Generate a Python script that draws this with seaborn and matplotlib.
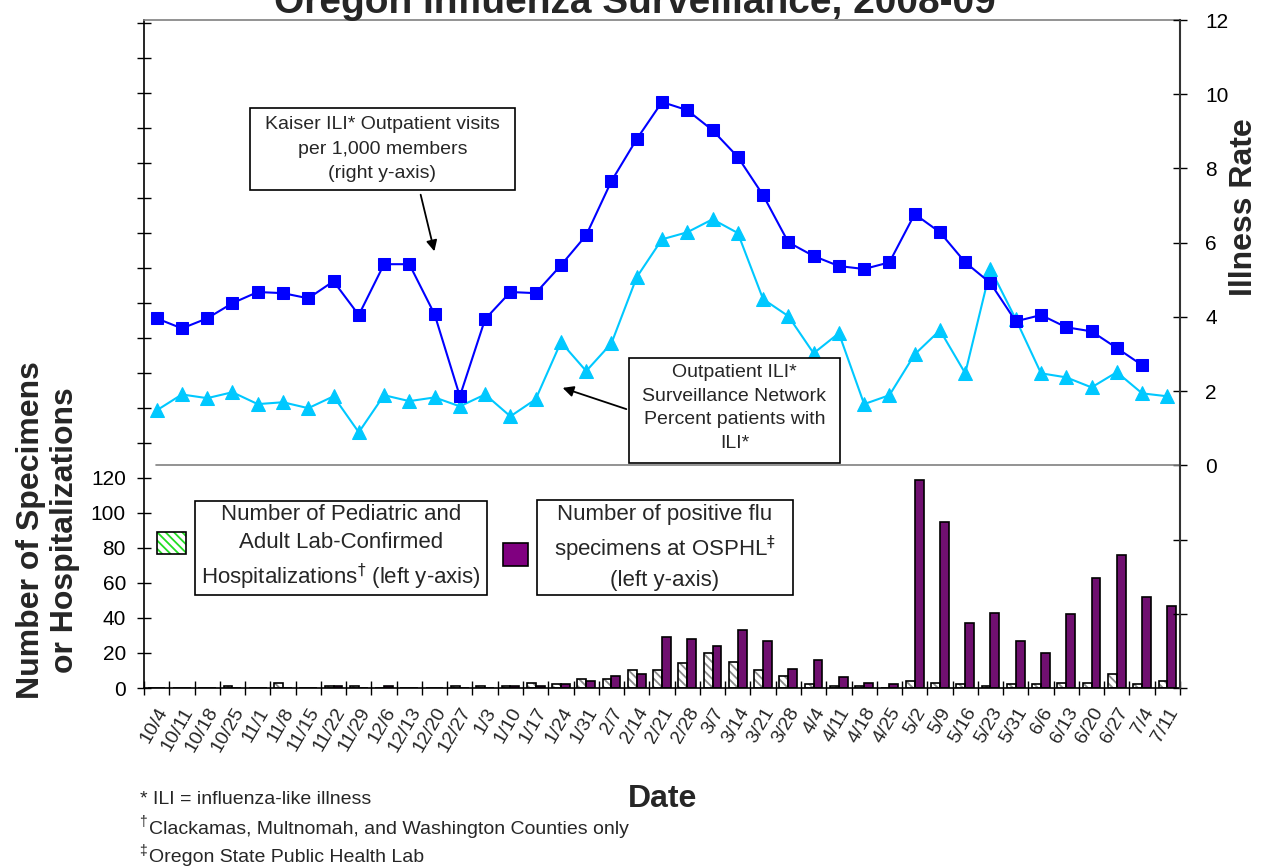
import numpy as np
import pandas as pd
import matplotlib
matplotlib.use('Agg')
import matplotlib.pyplot as plt
from matplotlib.patches import Rectangle, FancyArrowPatch
import seaborn as sns

# weekly data
dates = ['10/4', '10/11', '10/18', '10/25', '11/1', '11/8', '11/15', '11/22', '11/29',
         '12/6', '12/13', '12/20', '12/27', '1/3', '1/10', '1/17', '1/24', '1/31',
         '2/7', '2/14', '2/21', '2/28', '3/7', '3/14', '3/21', '3/28', '4/4', '4/11',
         '4/18', '4/25', '5/2', '5/9', '5/16', '5/23', '5/31', '6/6', '6/13', '6/20',
         '6/27', '7/4', '7/11']
hospitalizations = [0, 0, 0, 1, 0, 3, 0, 1, 1, 0, 0, 0, 1, 1, 1, 3, 2, 5, 5, 10, 10,
                    14, 20, 15, 10, 7, 2, 1, 1, 0, 4, 3, 2, 1, 2, 2, 3, 3, 8, 2, 4]
osphl_positive = [0, 0, 0, 0, 0, 0, 0, 1, 0, 1, 0, 0, 0, 0, 1, 1, 2, 4, 7, 8, 29,
                  28, 24, 33, 27, 11, 16, 6, 3, 2, 119, 95, 37, 43, 27, 20, 42, 63, 76, 52, 47]
kaiser_ili = [3.96, 3.69, 3.96, 4.37, 4.67, 4.64, 4.50, 4.96, 4.05, 5.42, 5.42, 4.07,
              1.86, 3.94, 4.67, 4.64, 5.39, 6.20, 7.66, 8.79, 9.79, 9.57, 9.03, 8.31,
              7.28, 6.01, 5.64, 5.37, 5.29, 5.47, 6.77, 6.28, 5.47, 4.91, 3.88, 4.05,
              3.72, 3.61, 3.16, 2.70, np.nan]
outpatient_ili = [1.48, 1.91, 1.81, 1.97, 1.65, 1.70, 1.54, 1.86, 0.89, 1.89, 1.73,
                  1.83, 1.59, 1.91, 1.32, 1.78, 3.32, 2.54, 3.29, 5.07, 6.09, 6.28,
                  6.63, 6.26, 4.48, 4.02, 3.02, 3.56, 1.65, 1.89, 2.99, 3.64, 2.48,
                  5.29, 3.94, 2.48, 2.37, 2.10, 2.51, 1.94, 1.86]

n = len(dates)

sns.set_theme(style='white')
plt.rcParams['font.family'] = ['Liberation Sans', 'DejaVu Sans']
plt.rcParams['hatch.linewidth'] = 1.3

W, H = 1263, 867
fig = plt.figure(figsize=(W / 100, H / 100), dpi=100)


def fx(px):
    return px / W


def fy(py):
    return 1 - py / H


ax = fig.add_axes([fx(144), fy(688), fx(1180) - fx(144), fy(20) - fy(688)])

# bars (left axis)
bars = pd.DataFrame({
    'date': dates * 2,
    'count': hospitalizations + osphl_positive,
    'series': ['hosp'] * n + ['osphl'] * n,
})
sns.barplot(data=bars, x='date', y='count', hue='series', hue_order=['hosp', 'osphl'],
            palette={'hosp': 'white', 'osphl': '#800080'}, width=0.7,
            edgecolor='black', linewidth=1.2, legend=False, ax=ax)
for p in ax.containers[0]:
    p.set_hatch('\\\\\\\\')
    p.set_edgecolor('#8a8a8a')
    p.set_linewidth(0)
    ax.add_patch(Rectangle(p.get_xy(), p.get_width(), p.get_height(),
                           fill=False, edgecolor='black', lw=1.2))

ax.set_xlim(-0.5, n - 0.5)
ax.set_ylim(0, 381.7)
left_ticks = np.arange(0, 381, 20)
ax.set_yticks(left_ticks)
ax.set_yticklabels([str(v) if v <= 120 else '' for v in left_ticks])
ax.tick_params(axis='y', direction='inout', length=10, width=1, labelsize=15,
               colors='black', left=True, pad=8)
ax.set_xticks(range(n))
ax.set_xticklabels(dates, rotation=60, ha='right', rotation_mode='anchor')
ax.set_xticks(np.arange(-0.5, n, 1), minor=True)
ax.tick_params(axis='x', which='major', length=0, labelsize=14, pad=12)
ax.tick_params(axis='x', which='minor', direction='inout', length=10, width=1,
               color='black', bottom=True)
ax.set_xlabel('')
ax.set_ylabel('')
for side in ['left', 'bottom']:
    ax.spines[side].set_color('black')
    ax.spines[side].set_linewidth(1.2)
ax.spines['right'].set_visible(False)
ax.spines['top'].set_color('#808080')
ax.spines['top'].set_linewidth(1.2)

# lines (right axis)
ax2 = ax.twinx()
x_pos = np.arange(n)
sns.lineplot(x=x_pos, y=outpatient_ili, ax=ax2, color='#00C8FF', marker='^',
             markersize=10, markeredgecolor='#00C8FF', lw=1.5, estimator=None)
sns.lineplot(x=x_pos, y=kaiser_ili, ax=ax2, color='#0000FF', marker='s',
             markersize=8, markeredgecolor='#0000FF', lw=1.5, estimator=None)
ax2.set_ylim(-6, 12)
right_ticks = np.arange(-6, 13, 2)
ax2.set_yticks(right_ticks)
ax2.set_yticklabels([str(v) if v >= 0 else '' for v in right_ticks])
ax2.tick_params(axis='y', direction='inout', length=10, width=1, labelsize=15,
                colors='black', right=True, pad=13)
ax2.axhline(0, xmin=0.012, xmax=1, color='#808080', lw=1.2)
ax2.set_xlim(-0.5, n - 0.5)
for side in ['left', 'bottom', 'top']:
    ax2.spines[side].set_visible(False)
ax2.spines['right'].set_color('#333333')
ax2.spines['right'].set_linewidth(1.5)

# titles and axis labels
fig.text(fx(635), fy(13), 'Oregon Influenza Surveillance, 2008-09', ha='center',
         va='baseline', fontsize=28, fontweight='bold')
fig.text(fx(48), fy(530), 'Number of Specimens\nor Hospitalizations', rotation=90,
         ha='center', va='center', fontsize=23, fontweight='bold', linespacing=1.15)
fig.text(fx(1244), fy(207), 'Illness Rate', rotation=90, ha='center', va='center',
         fontsize=23, fontweight='bold')
fig.text(fx(663), fy(799), 'Date', ha='center', va='center', fontsize=23,
         fontweight='bold')

# footnotes
fig.text(fx(140), fy(800), '* ILI = influenza-like illness', fontsize=14, va='center')
fig.text(fx(139), fy(822), '\u2020', fontsize=10, va='center')
fig.text(fx(149), fy(829), 'Clackamas, Multnomah, and Washington Counties only',
         fontsize=14, va='center')
fig.text(fx(139), fy(851), '\u2021', fontsize=10, va='center')
fig.text(fx(149), fy(858), 'Oregon State Public Health Lab', fontsize=14, va='center')


def text_box(x0, y0, x1, y1, text, size, spacing, cy=None):
    fig.add_artist(Rectangle((fx(x0), fy(y1)), fx(x1) - fx(x0), fy(y0) - fy(y1),
                             transform=fig.transFigure, facecolor='white',
                             edgecolor='black', lw=1.2, zorder=5))
    cy = (y0 + y1) / 2 if cy is None else cy
    fig.text(fx((x0 + x1) / 2), fy(cy), text, ha='center', va='center',
             multialignment='center', fontsize=size, linespacing=spacing, zorder=6)


def arrow(start, end):
    fig.add_artist(FancyArrowPatch((fx(start[0]), fy(start[1])), (fx(end[0]), fy(end[1])),
                                   transform=fig.transFigure, arrowstyle='-|>',
                                   mutation_scale=16, color='black', lw=1.3, zorder=5))


text_box(250, 108, 515, 190, 'Kaiser ILI* Outpatient visits\nper 1,000 members\n(right y-axis)',
         14, 1.6)
arrow((420, 192), (435, 254))
text_box(629, 358, 840, 463, 'Outpatient ILI*\nSurveillance Network\nPercent patients with\nILI*',
         14, 1.52, cy=408)
arrow((629, 410), (560, 387))

text_box(195, 501, 487, 595,
         'Number of Pediatric and\nAdult Lab-Confirmed\nHospitalizations$^{\\dagger}$ (left y-axis)',
         16, 1.4)
text_box(537, 500, 793, 595,
         'Number of positive flu\nspecimens at OSPHL$^{\\ddagger}$\n(left y-axis)', 16, 1.4)

# legend swatches
fig.add_artist(Rectangle((fx(157), fy(554)), fx(186) - fx(157), fy(532) - fy(554),
                         transform=fig.transFigure, facecolor='white', edgecolor='#22DD22',
                         hatch='\\\\\\\\', lw=0, zorder=5))
fig.add_artist(Rectangle((fx(157), fy(554)), fx(186) - fx(157), fy(532) - fy(554),
                         transform=fig.transFigure, fill=False, edgecolor='black',
                         lw=1.2, zorder=6))
fig.add_artist(Rectangle((fx(503), fy(566)), fx(528) - fx(503), fy(543) - fy(566),
                         transform=fig.transFigure, facecolor='#800080',
                         edgecolor='black', lw=1.2, zorder=5))

fig.savefig('out.png', dpi=100)
